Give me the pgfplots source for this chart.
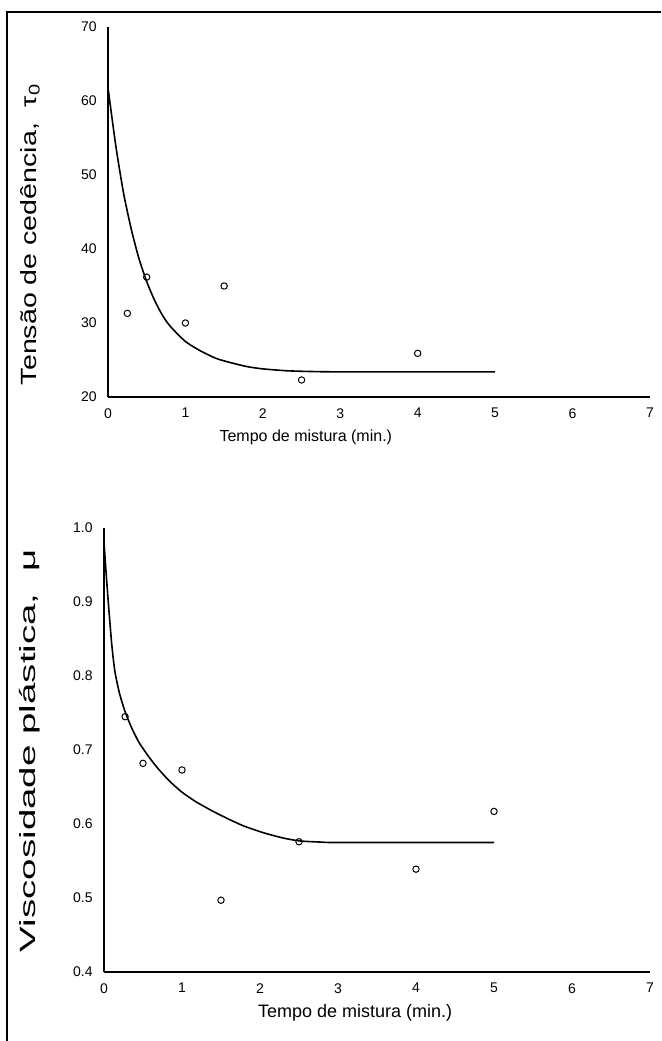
\documentclass[border=0pt]{standalone}
\usepackage{pgfplots}
\pgfplotsset{compat=1.18}
\usepackage{fontspec}
\setmainfont{Liberation Sans}
\begin{document}
\begin{tikzpicture}
\useasboundingbox (0pt,0pt) rectangle (330.5pt,520.5pt);
\draw[line width=1pt] (3.5pt,0pt) -- (3.5pt,514.5pt) -- (330.5pt,514.5pt);
\pgfplotsset{
  myax/.style={
    scale only axis,
    axis x line=bottom, axis y line=left,
    axis line style={-, line width=0.7pt},
    xmin=0, xmax=7, xtick={0,1,...,7},
    tick style={draw=none},
    ticklabel style={font=\fontsize{7}{8}\selectfont},
    /pgf/number format/assume math mode=true,
    clip=false,
    label style={font=\fontsize{11}{13}\selectfont},
  },
  curve/.style={black, line width=0.8pt, smooth, tension=0.4, mark=none},
  pts/.style={only marks, mark=o, mark size=1.6pt, black, mark options={line width=0.5pt}},
}
% top axis
\begin{axis}[myax, at={(54pt,322pt)}, anchor=south west,
  width=271pt, height=185pt,
  ymin=20, ymax=70, ytick={20,30,...,70},
  xlabel={Tempo de mistura (min.)},
  xlabel style={at={(axis description cs:0.365,-0.108)}, anchor=center, font=\fontsize{8}{10}\selectfont},
  ylabel={Tensão de cedência,\ \ τ\textsubscript{0}},
  ylabel style={at={(axis description cs:-0.144,0.44)}, anchor=center, rotate=0, xscale=1.3},
]
\addplot[curve] coordinates {
(0,61.8) (0.1,54.0) (0.2,47.6) (0.3,42.7) (0.4,38.7) (0.5,35.6) (0.6,33.1)
(0.7,31.1) (0.8,29.6) (1.0,27.5) (1.2,26.2) (1.4,25.2) (1.6,24.6) (1.8,24.1)
(2.0,23.8) (2.3,23.55) (2.6,23.45) (3.0,23.4) (5,23.4)};
\addplot[pts] coordinates {
(0.25,31.3) (0.5,36.2) (1.0,30.0) (1.5,35.0) (2.5,22.3) (4.0,25.9)};
\end{axis}
% bottom axis
\begin{axis}[myax, at={(52pt,34.5pt)}, anchor=south west,
  width=273pt, height=222pt,
  ymin=0.4, ymax=1.0, ytick={0.4,0.5,...,1.0},
  yticklabel style={/pgf/number format/fixed, /pgf/number format/fixed zerofill, /pgf/number format/precision=1},
  xlabel={Tempo de mistura (min.)},
  xlabel style={at={(axis description cs:0.46,-0.092)}, anchor=center, font=\fontsize{9}{11}\selectfont},
  ylabel={Viscosidade plástica,\ \ μ},
  ylabel style={at={(axis description cs:-0.1355,0.498)}, anchor=center, rotate=0, xscale=1.75},
]
\addplot[curve] coordinates {
(0,0.981) (0.03,0.935) (0.06,0.893) (0.1,0.842) (0.14,0.806) (0.2,0.776)
(0.27,0.752) (0.35,0.731) (0.45,0.710) (0.58,0.690) (0.7,0.674) (0.84,0.658)
(1.0,0.643) (1.18,0.630) (1.4,0.617) (1.61,0.606) (1.8,0.597) (2.05,0.588)
(2.3,0.581) (2.52,0.577) (2.8,0.5755) (3.0,0.575) (5,0.575)};
\addplot[pts] coordinates {
(0.27,0.745) (0.5,0.682) (1.0,0.673) (1.5,0.497) (2.5,0.576) (4.0,0.539) (5.0,0.617)};
\end{axis}
\end{tikzpicture}
\end{document}
